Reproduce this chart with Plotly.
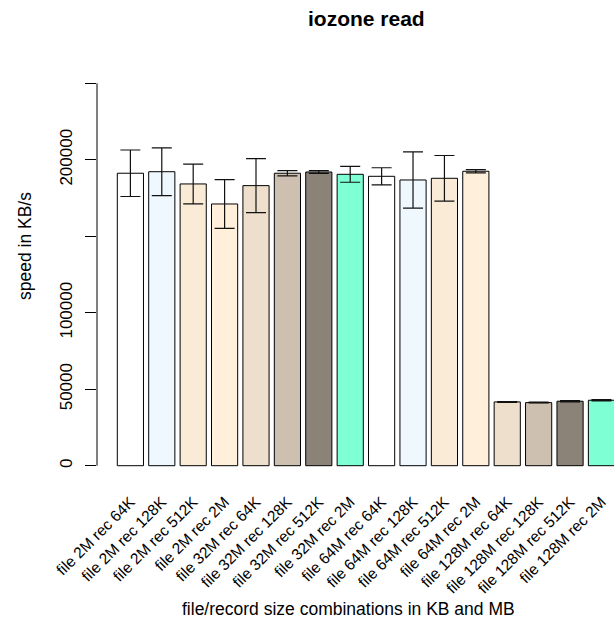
import plotly.graph_objects as go

categories = [
    "file 2M rec 64K", "file 2M rec 128K", "file 2M rec 512K", "file 2M rec 2M",
    "file 32M rec 64K", "file 32M rec 128K", "file 32M rec 512K", "file 32M rec 2M",
    "file 64M rec 64K", "file 64M rec 128K", "file 64M rec 512K", "file 64M rec 2M",
    "file 128M rec 64K", "file 128M rec 128K", "file 128M rec 512K", "file 128M rec 2M",
]
speeds = [191200, 192200, 184200, 171100, 183100, 191200, 192000, 190500,
          189200, 186800, 187900, 192500, 41700, 41250, 42150, 42800]
errors = [15200, 15600, 13000, 15900, 17700, 1700, 900, 5200,
          5600, 18400, 14900, 1100, 250, 250, 400, 450]
colors = ["#FFFFFF", "#F0F8FF", "#FAEBD7", "#FFEFDB",
          "#EEDFCC", "#CDC0B0", "#8B8378", "#7FFFD4"] * 2
ytick_vals = [0, 50000, 100000, 150000, 200000, 250000]
ytick_text = ["0", "50000", "100000", "", "200000", ""]

W, H = 614, 625
ML, MR, MT, MB = 97, 0, 68, 144
PW, PH = W - ML - MR, H - MT - MB

# bar centres on R barplot scale (width 1, space 0.2)
xs = [0.7 + 1.2 * i for i in range(len(categories))]
x0 = 0.2 - (117.3 - ML) / 26.17
x1 = x0 + PW / 26.17


def px_x(p):
    return (p - ML) / PW


def px_y(p):
    return 1 - (p - MT) / PH


FONT = "Liberation Sans, Arial, Helvetica, sans-serif"

fig = go.Figure()
fig.add_trace(go.Bar(
    x=xs, y=speeds, width=1,
    marker=dict(color=colors, line=dict(color="black", width=1)),
    error_y=dict(type="data", array=errors, visible=True,
                 color="#111111", thickness=1.2, width=10),
    showlegend=False,
))

fig.add_shape(type="line", xref="paper", yref="y", x0=0, x1=0,
              y0=0, y1=250000, line=dict(color="black", width=1))

fig.update_layout(
    width=W, height=H,
    margin=dict(l=ML, r=MR, t=MT, b=MB, autoexpand=False),
    paper_bgcolor="white", plot_bgcolor="white",
    font=dict(family=FONT, size=17, color="black"),
    xaxis=dict(range=[x0, x1], tickvals=xs, ticktext=categories,
               tickangle=-45, showgrid=False, zeroline=False,
               showline=False, ticks="", tickfont=dict(size=15.5),
               ticklabelstandoff=8),
    yaxis=dict(range=[-10000, 260000], tickvals=ytick_vals,
               ticktext=ytick_text, tickangle=-90, showgrid=False,
               zeroline=False, showline=False, ticks="outside",
               ticklen=11, tickcolor="black", tickwidth=1,
               tickfont=dict(size=17), ticklabelstandoff=6),
    annotations=[
        dict(text="<b>iozone read</b>", xref="paper", yref="paper",
             x=px_x(366), y=px_y(18.5), xanchor="center", yanchor="middle",
             showarrow=False, font=dict(size=21)),
        dict(text="file/record size combinations in KB and MB",
             xref="paper", yref="paper", x=px_x(348), y=px_y(609),
             xanchor="center", yanchor="middle", showarrow=False,
             font=dict(size=17.5)),
        dict(text="speed in KB/s", xref="paper", yref="paper",
             x=px_x(25), y=px_y(246), xanchor="center", yanchor="middle",
             textangle=-90, showarrow=False, font=dict(size=17.5)),
    ],
)

fig.write_html("out.html")
